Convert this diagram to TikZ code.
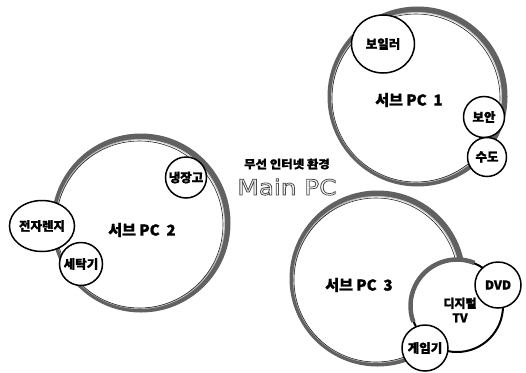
\documentclass[tikz,border=0pt]{standalone}
\usepackage{fontspec}
\newfontfamily\krfont{Noto Sans CJK KR}[BoldFeatures={FakeBold=1.2}]
\newfontfamily\mpcfont{DejaVu Sans}
\usetikzlibrary{shapes.geometric}
\newcommand\hollowtext[1]{\special{pdf:literal direct 1 Tr 0.75 w}#1\special{pdf:literal direct 0 Tr}}
\begin{document}
\begin{tikzpicture}[x=1pt,y=-1pt,
  band/.style={draw=black!62, line width=6pt},
  glint/.style={draw=black!22, line width=0.9pt},
  bigc/.style={circle, draw=black!85, line width=0.6pt, fill=white, inner sep=0pt},
  smallc/.style={circle, draw=black, line width=1.5pt, fill=white, inner sep=0pt,
    font=\krfont\bfseries\fontsize{12.5}{14}\selectfont, align=center},
  smallell/.style={smallc, ellipse},
  biglabel/.style={font=\krfont\bfseries\fontsize{15}{17}\selectfont, inner sep=0pt}]
\useasboundingbox[fill=white] (0,0) rectangle (526,372);

% Sub PC 1
\draw[band] (417.5,96.5) circle (87);
\draw[glint] (416.5,97.5) circle (85);
\node[bigc, minimum size=168pt] (pc1) at (416,98) {};
\node[smallell, minimum width=63pt, minimum height=58pt] (boiler) at (383,44) {보일러};
\node[smallc, minimum size=41pt] (security) at (484,117) {보안};
\node[smallc, minimum size=39pt] (water) at (487,157) {수도};
\node[biglabel] (pc1label) at (409,100) {서브 PC\hspace{0.45em}1};

% Sub PC 2
\draw[band] (141,223) circle (86.5);
\draw[glint] (140,224) circle (84.5);
\node[bigc, minimum size=167pt] (pc2) at (139.5,224.5) {};
\node[smallell, minimum width=65pt, minimum height=51pt] (range) at (42,226) {전자렌지};
\node[smallc, minimum size=43pt] (washer) at (81,264) {세탁기};
\node[smallc, minimum size=41pt] (fridge) at (186,177.5) {냉장고};
\node[biglabel] (pc2label) at (142,230) {서브 PC\hspace{0.45em}2};

% Sub PC 3
\draw[band] (377.5,278.5) circle (85);
\draw[glint] (376.5,279.5) circle (83);
\node[bigc, minimum size=164pt] (pc3) at (376,280) {};
\node[biglabel] (pc3label) at (359,285) {서브 PC\hspace{0.45em}3};
\node[circle, draw=black, line width=2pt, fill=white, inner sep=0pt, minimum size=92pt] (tv) at (457,306) {};
\draw[draw=black!62, line width=4.5pt] (tv.center) ++(160:46.5) arc[start angle=160, end angle=292, radius=46.5];
\node[font=\krfont\bfseries\fontsize{12}{14.5}\selectfont, align=center] (tvlabel) at (460,310) {디지털\\TV};
\node[smallc, minimum size=46pt] (dvd) at (498,285) {DVD};
\node[smallc, minimum size=46pt] (game) at (425,348) {게임기};

% Main PC
\node[font=\krfont\bfseries\fontsize{11.5}{12}\selectfont, xscale=1.08, transform shape] (wireless) at (287,164) {무선 인터넷 환경};
\node[font=\mpcfont\fontsize{21.5}{24}\selectfont, text=black!70, xscale=1.15, transform shape] (mainpc) at (287,187) {\hollowtext{Main PC}};
\end{tikzpicture}
\end{document}
